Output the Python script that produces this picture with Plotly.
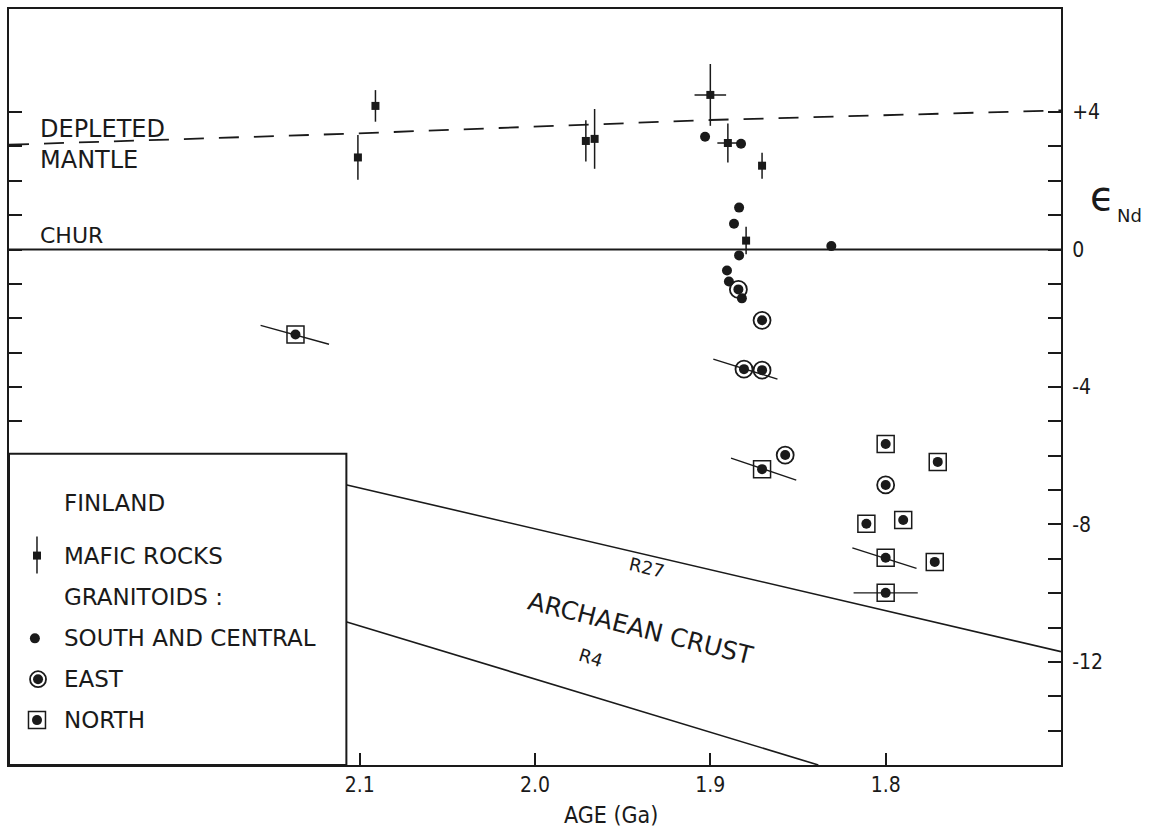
import plotly.graph_objects as go

# ---------------- data ----------------
# Mafic rocks: age (Ga), eps Nd, vertical / horizontal half error
mafic_age = [2.101, 2.091, 1.971, 1.966, 1.900, 1.890, 1.8705, 1.8796]
mafic_eps = [2.68, 4.18, 3.16, 3.22, 4.50, 3.10, 2.44, 0.26]
mafic_eps_err = [0.65, 0.46, 0.60, 0.87, 0.90, 0.57, 0.38, 0.40]
mafic_age_err = [0, 0, 0, 0, 0.009, 0.006, 0, 0]

# Granitoids, south and central
south_age = [1.903, 1.8825, 1.8836, 1.8865, 1.8836, 1.8905, 1.8894, 1.882, 1.831]
south_eps = [3.28, 3.08, 1.22, 0.75, -0.17, -0.61, -0.93, -1.42, 0.10]

# Granitoids, east
east_age = [1.884, 1.8705, 1.8808, 1.8705, 1.8573, 1.800]
east_eps = [-1.16, -2.06, -3.48, -3.51, -5.98, -6.85]

# Granitoids, north
north_age = [2.1366, 1.8705, 1.800, 1.7703, 1.811, 1.790, 1.800, 1.772, 1.800]
north_eps = [-2.47, -6.39, -5.66, -6.18, -7.98, -7.87, -8.97, -9.09, -9.99]

# Inclined (correlated) error segments: centre and half extents
seg_age = [2.137, 1.880, 1.8696, 1.8007, 1.800]
seg_eps = [-2.48, -3.48, -6.39, -8.98, -9.99]
seg_dage = [0.0195, 0.0183, 0.0186, 0.0183, 0.0183]
seg_deps = [0.275, 0.29, 0.32, 0.30, 0.0]

# Reference curves
chur_age = [2.30, 1.70]
chur_eps = [0.0, 0.0]
dm_age = [2.30, 2.107, 1.90, 1.70]
dm_eps = [3.05, 3.37, 3.77, 4.05]
r27_age = [2.1097, 1.70]
r27_eps = [-6.82, -11.70]
r4_age = [2.1097, 1.8384]
r4_eps = [-10.80, -15.0]

# Axes
x_range = [2.30, 1.70]
y_range = [-15, 7]
x_tickvals = [2.1, 2.0, 1.9, 1.8]
x_ticktext = ["2.1", "2.0", "1.9", "1.8"]
y_tickvals = [4, 0, -4, -8, -12]
y_ticktext = ["+4", "0", "-4", "-8", "-12"]
y_minor_tickvals = list(range(-14, 5))

# Legend entries
legend_lines = ["FINLAND", "MAFIC ROCKS", "GRANITOIDS :", "SOUTH AND CENTRAL", "EAST", "NORTH"]

# ---------------- figure ----------------
FONT = "DejaVu Sans"
NUMFONT = "DejaVu Sans Condensed, Liberation Sans Narrow, DejaVu Sans"
BLACK = "#1a1a1a"

fig = go.Figure()

fig.add_trace(go.Scatter(x=chur_age, y=chur_eps, mode="lines",
                         line=dict(color=BLACK, width=2), hoverinfo="skip"))
fig.add_trace(go.Scatter(x=dm_age, y=dm_eps, mode="lines",
                         line=dict(color=BLACK, width=1.8, dash="20px,15px"), hoverinfo="skip"))
fig.add_trace(go.Scatter(x=r27_age, y=r27_eps, mode="lines",
                         line=dict(color=BLACK, width=1.6), hoverinfo="skip"))
fig.add_trace(go.Scatter(x=r4_age, y=r4_eps, mode="lines",
                         line=dict(color=BLACK, width=1.6), hoverinfo="skip"))

# inclined error segments
sx, sy = [], []
for a, e, da, de in zip(seg_age, seg_eps, seg_dage, seg_deps):
    sx += [a + da, a - da, None]
    sy += [e + de, e - de, None]
fig.add_trace(go.Scatter(x=sx, y=sy, mode="lines",
                         line=dict(color=BLACK, width=1.4), hoverinfo="skip"))

# mafic rocks
fig.add_trace(go.Scatter(
    x=mafic_age, y=mafic_eps, mode="markers",
    marker=dict(symbol="square", size=8, color=BLACK),
    error_y=dict(type="data", array=mafic_eps_err, thickness=1.5, width=0, color=BLACK),
    error_x=dict(type="data", array=mafic_age_err, thickness=1.5, width=0, color=BLACK),
))
# south & central
fig.add_trace(go.Scatter(x=south_age, y=south_eps, mode="markers",
                         marker=dict(symbol="circle", size=10, color=BLACK)))
# east
fig.add_trace(go.Scatter(x=east_age, y=east_eps, mode="markers",
                         marker=dict(symbol="circle-open", size=17, color=BLACK,
                                     line=dict(width=1.8, color=BLACK))))
fig.add_trace(go.Scatter(x=east_age, y=east_eps, mode="markers",
                         marker=dict(symbol="circle", size=10, color=BLACK)))
# north
fig.add_trace(go.Scatter(x=north_age, y=north_eps, mode="markers",
                         marker=dict(symbol="square-open", size=17, color=BLACK,
                                     line=dict(width=1.5, color=BLACK))))
fig.add_trace(go.Scatter(x=north_age, y=north_eps, mode="markers",
                         marker=dict(symbol="circle", size=10, color=BLACK)))

# ---------------- legend box (shapes) ----------------
box_x1 = 0.3207
box_y1 = 0.4116
shapes = [dict(type="rect", xref="paper", yref="paper", x0=0, y0=0, x1=box_x1, y1=box_y1,
               fillcolor="white", line=dict(color=BLACK, width=2), layer="above")]

sym_x = 0.0266
row_y = [0.347, 0.277, 0.2216, 0.1675, 0.1135, 0.0594]

def pix_shape(kind, cx, cy, hw, hh, fill, lw=0):
    return dict(type=kind, xref="paper", yref="paper", xsizemode="pixel", ysizemode="pixel",
                xanchor=cx, yanchor=cy, x0=-hw, x1=hw, y0=-hh, y1=hh,
                fillcolor=fill, line=dict(color=BLACK, width=lw), layer="above")

# mafic symbol: vertical bar + square
shapes.append(dict(type="line", xref="paper", yref="paper", xsizemode="pixel", ysizemode="pixel",
                   xanchor=sym_x, yanchor=row_y[1], x0=0, x1=0, y0=-18, y1=19,
                   line=dict(color=BLACK, width=1.5), layer="above"))
shapes.append(pix_shape("rect", sym_x, row_y[1], 4, 4, BLACK))
# south dot
shapes.append(pix_shape("circle", sym_x - 0.002, row_y[3], 5, 5, BLACK))
# east ring + dot
shapes.append(pix_shape("circle", sym_x + 0.001, row_y[4], 8, 8, "rgba(0,0,0,0)", 1.8))
shapes.append(pix_shape("circle", sym_x + 0.001, row_y[4], 5, 5, BLACK))
# north square + dot
shapes.append(pix_shape("rect", sym_x, row_y[5], 8.5, 8.5, "rgba(0,0,0,0)", 1.5))
shapes.append(pix_shape("circle", sym_x, row_y[5], 5, 5, BLACK))

annotations = []
for txt, yy in zip(legend_lines, row_y):
    annotations.append(dict(text=txt, x=0.0500, y=yy, xref="paper", yref="paper",
                            xanchor="left", yanchor="middle", showarrow=False,
                            font=dict(family=FONT, size=23, color=BLACK)))

# curve labels
def data_label(txt, x, y, size=21, angle=0, xanchor="left"):
    return dict(text=txt, x=x, y=y, xref="x", yref="y", xanchor=xanchor, yanchor="middle",
                showarrow=False, textangle=angle, font=dict(family=FONT, size=size, color=BLACK))

annotations += [
    data_label("DEPLETED", 2.2835, 3.50, 24),
    data_label("MANTLE", 2.2835, 2.62, 24),
    data_label("CHUR", 2.2835, 0.41, 22),
    data_label("R27", 1.9363, -9.26, 18, 13, "center"),
    data_label("R4", 1.9683, -11.87, 18, 17, "center"),
    data_label("ARCHAEAN CRUST", 1.9397, -11.03, 25, 14, "center"),
]

# axis titles
annotations.append(dict(text="AGE (Ga)", x=0.572, y=-0.066, xref="paper", yref="paper",
                        xanchor="center", yanchor="middle", showarrow=False,
                        font=dict(family=NUMFONT, size=23, color=BLACK)))
annotations.append(dict(text="ϵ", x=1.039, y=0.753, xref="paper", yref="paper",
                        xanchor="center", yanchor="middle", showarrow=False,
                        font=dict(family=FONT, size=40, color=BLACK)))
annotations.append(dict(text="Nd", x=1.051, y=0.727, xref="paper", yref="paper",
                        xanchor="left", yanchor="middle", showarrow=False,
                        font=dict(family=FONT, size=18, color=BLACK)))

fig.update_layout(
    width=1157, height=832,
    margin=dict(l=7, r=96, t=7, b=67),
    paper_bgcolor="white", plot_bgcolor="white",
    showlegend=False,
    shapes=shapes, annotations=annotations,
    xaxis=dict(range=x_range, tickvals=x_tickvals, ticktext=x_ticktext,
               ticks="inside", ticklen=12, tickwidth=1.5, tickcolor=BLACK,
               showline=True, linewidth=2, linecolor=BLACK, mirror=True,
               showgrid=False, zeroline=False,
               tickfont=dict(family=NUMFONT, size=21, color=BLACK)),
    yaxis=dict(range=y_range, side="right", tickvals=y_tickvals, ticktext=y_ticktext,
               ticks="inside", ticklen=13, tickwidth=1.5, tickcolor=BLACK,
               minor=dict(tickvals=y_minor_tickvals, ticks="inside", ticklen=13,
                          tickwidth=1.5, tickcolor=BLACK, showgrid=False),
               showline=True, linewidth=2, linecolor=BLACK, mirror="ticks",
               showgrid=False, zeroline=False, ticklabelstandoff=5,
               tickfont=dict(family=NUMFONT, size=21, color=BLACK)),
)

fig.write_html("out.html")
